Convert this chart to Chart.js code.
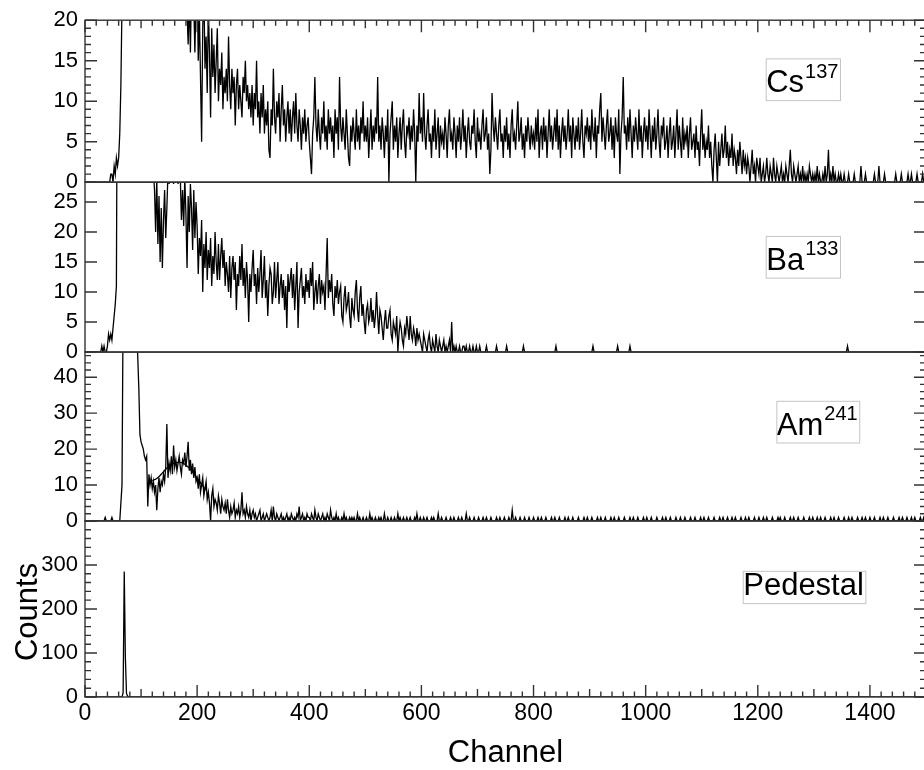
<!DOCTYPE html>
<html>
<head>
<meta charset="utf-8">
<title>Source spectra</title>
<script src="https://cdn.jsdelivr.net/npm/chart.js@4.4.1/dist/chart.umd.min.js"></script>
<style>
  html, body { margin: 0; padding: 0; overflow: hidden; background: #fff; }
  #wrap { position: relative; width: 932px; height: 770px; }
</style>
</head>
<body>
<div id="wrap"><canvas id="spectra" width="932" height="770"></canvas></div>
<script>
// counts per 2-channel bin, first bin at channel 0, one row per 100 channels
const BIN = 2;

const csCounts = [
  0,0,0,0,0,0,0,0,0,0, 0,0,0,0,0,0,0,0,0,0, 0,0,0,1,1,0,2,1,3,2, 3,6,12,22,60,400,350,180,120,90, 70,60,52,46,42,40,38,36,35,34,
  33,32,32,31,31,30,30,29,29,28, 28,28,27,27,27,26,26,26,25,25, 25,24,24,24,24,23,23,23,23,22, 22,22,22,22,21,22,21,23,21,22, 24,21,17,23,16,25,20,22,16,23,
  26,15,21,13,5,19,24,14,18,11, 22,16,8,19,13,17,11,15,19,10, 14,12,16,9,13,11,14,10,18,12, 9,14,11,13,7,12,14,9,12,10, 8,13,11,15,10,12,9,11,8,12,
  7,11,9,15,8,10,6,11,8,12, 6,9,7,10,4,3,9,7,14,8, 6,10,8,11,5,9,12,7,9,5, 8,10,6,9,5,8,10,6,11,7, 5,9,7,4,8,6,9,5,7,8,
  5,3,1,6,8,13,7,5,9,6, 4,8,6,10,5,7,4,9,6,8, 5,7,3,9,6,8,4,13,7,5, 8,6,4,9,6,3,2,7,5,8, 6,4,9,5,7,4,8,6,10,5,
  7,5,8,3,6,9,4,7,5,8, 6,13,5,7,4,8,6,3,7,5, 9,0,6,8,10,4,7,5,8,3, 6,8,4,7,9,5,3,7,6,8, 4,7,5,9,6,0,7,5,11,6,
  8,5,11,6,4,7,9,5,6,3, 7,5,9,4,6,8,3,7,5,6, 4,8,6,3,7,9,5,6,4,8, 6,3,7,5,8,4,6,9,5,7, 3,6,8,5,4,7,6,9,5,3,
  8,5,6,4,7,9,5,6,8,4, 6,1,4,11,7,5,8,6,4,7, 9,5,6,3,7,5,8,4,6,3, 7,9,5,6,4,7,10,5,6,8, 4,6,3,7,5,8,6,4,7,5,
  6,4,8,5,9,3,6,7,4,8, 5,7,3,6,9,5,7,4,6,8, 5,9,4,7,3,6,8,5,7,4, 6,9,5,7,3,8,6,4,7,5, 8,4,6,9,5,3,7,6,8,5,
  7,4,9,6,5,8,3,7,6,9, 11,5,8,6,4,7,9,5,6,8, 4,7,3,8,6,5,9,1,6,8, 13,6,7,4,8,5,9,6,3,7, 5,8,6,4,9,5,7,3,6,8,
  5,7,4,9,6,3,7,5,8,4, 6,9,5,3,7,6,8,4,5,7, 3,6,8,4,5,7,3,6,9,4, 7,5,3,8,4,6,5,7,3,6, 8,4,5,6,3,7,4,5,2,6,
  9,4,6,3,5,4,7,3,5,2, 0,4,6,3,0,5,2,4,6,3, 4,7,3,5,2,4,3,6,2,4, 3,1,4,2,5,3,1,4,2,3, 1,3,2,0,2,4,1,2,0,3,
  2,1,3,0,1,2,0,1,3,1, 0,2,1,0,3,1,0,2,1,0, 1,2,0,1,0,2,1,0,2,4, 1,0,2,1,0,1,2,0,1,0, 2,0,1,0,1,0,2,1,0,1,
  0,1,0,2,0,1,0,0,1,0, 2,0,1,4,0,1,0,2,0,1, 0,0,1,0,1,0,0,1,0,0, 0,1,0,0,0,0,1,0,0,0, 0,0,2,0,0,0,1,0,0,0,
  0,0,0,0,1,0,0,0,2,0, 0,0,0,1,0,0,0,0,0,0, 0,0,0,1,0,0,0,0,1,0, 0,0,0,0,1,0,0,1,0,0, 0,0,1,0,0,0,0,1,0,0
];

const baCounts = [
  0,0,0,0,0,0,0,0,0,0, 0,0,0,0,0,1,0,1,0,0, 1,3,2,3,2,4,6,8,11,60, 400,300,200,150,120,100,90,80,74,70, 65,62,58,55,52,50,48,46,44,42,
  41,40,38,37,36,35,34,33,32,31, 30,30,27,20,29,18,26,15,24,14, 22,27,19,24,30,28,31,29,30,28, 32,29,30,28,31,29,22,27,21,29, 23,14,26,20,28,24,17,27,19,25,
  21,13,19,16,22,10,18,14,20,12, 17,14,19,11,16,13,20,15,12,18, 12,16,19,14,17,11,15,13,10,16, 9,14,16,12,15,7,13,11,16,12, 18,11,14,9,15,12,5,13,10,14,
  17,11,13,8,14,10,13,17,9,12, 16,9,12,6,11,14,13,8,10,15, 9,12,15,8,11,13,9,12,7,11, 4,13,10,12,14,9,13,7,11,15, 4,10,12,14,9,11,8,13,10,12,
  9,14,11,15,7,10,12,8,11,13, 8,12,10,11,7,13,19,9,12,10, 13,8,6,11,9,12,8,10,11,6, 5,9,11,7,8,10,6,4,9,7, 6,10,12,7,5,9,11,6,8,5,
  3,7,8,5,6,9,5,7,4,6, 10,6,3,7,6,4,2,5,7,4, 4,6,7,3,2,5,4,3,6,0, 3,5,4,2,1,4,3,6,4,2, 6,3,2,4,3,1,4,2,3,2,
  1,0,3,2,1,0,2,3,1,0, 2,1,0,3,1,0,2,1,0,1, 2,0,1,0,1,2,0,5,0,1, 0,1,0,0,1,0,0,1,1,0, 1,0,0,1,0,0,1,0,0,1,
  0,0,1,0,0,0,0,0,1,0, 0,0,0,0,0,0,0,1,0,0, 0,0,0,0,0,0,1,0,0,0, 0,0,0,0,0,0,0,0,0,0, 0,1,0,0,0,0,0,0,0,0,
  0,0,0,0,0,0,0,0,0,0, 0,0,0,0,0,0,0,0,0,0, 1,0,0,0,0,0,0,0,0,0, 0,0,0,0,0,0,0,0,0,0, 0,0,0,0,0,0,0,0,0,0,
  0,0,0,1,0,0,0,0,0,0, 0,0,0,0,0,0,0,0,0,0, 0,0,0,0,0,1,0,0,0,0, 0,0,0,0,0,0,1,0,0,0, 0,0,0,0,0,0,0,0,0,0,
  0,0,0,0,0,0,0,0,0,0, 0,0,0,0,0,0,0,0,0,0, 0,0,0,0,0,0,0,0,0,0, 0,0,0,0,0,0,0,0,0,0, 0,0,0,0,0,0,0,0,0,0,
  0,0,0,0,0,0,0,0,0,0, 0,0,0,0,0,0,0,0,0,0, 0,0,0,0,0,0,0,0,0,0, 0,0,0,0,0,0,0,0,0,0, 0,0,0,0,0,0,0,0,0,0,
  0,0,0,0,0,0,0,0,0,0, 0,0,0,0,0,0,0,0,0,0, 0,0,0,0,0,0,0,0,0,0, 0,0,0,0,0,0,0,0,0,0, 0,0,0,0,0,0,0,0,0,0,
  0,0,0,0,0,0,0,0,0,0, 0,0,0,0,0,0,0,0,0,0, 0,0,0,0,0,0,0,0,0,0, 1,0,0,0,0,0,0,0,0,0, 0,0,0,0,0,0,0,0,0,0,
  0,0,0,0,0,0,0,0,0,0, 0,0,0,0,0,0,0,0,0,0, 0,0,0,0,0,0,0,0,0,0, 0,0,0,0,0,0,0,0,0,0, 0,0,0,0,0,0,0,0,0,0
];

const amCounts = [
  0,0,0,0,0,0,0,0,0,0, 0,0,0,0,0,0,0,0,1,0, 0,0,0,0,1,0,0,0,0,0, 0,0,5,10,60,400,500,300,200,150, 120,100,90,80,72,64,55,46,37,24,
  22,21,20,18,17,18,4,13,10,12, 9,11,8,10,3,9,12,8,11,10, 13,11,15,27,12,16,14,18,13,21, 15,17,14,16,18,15,13,17,16,19, 15,18,22,14,17,13,16,12,15,11,
  12,9,13,8,10,12,7,9,11,6, 8,5,0,7,9,4,6,5,3,7, 5,2,6,4,3,5,2,6,3,1, 4,2,3,5,1,3,2,4,1,3, 8,2,3,1,4,2,1,3,0,2,
  3,1,2,0,1,2,3,0,1,2, 0,1,2,1,0,1,3,0,4,1, 0,2,1,0,1,2,0,1,0,1, 2,0,1,0,2,1,0,1,0,2, 1,4,0,1,2,0,1,0,2,1,
  1,0,2,1,0,3,1,0,2,1, 0,1,2,0,1,0,2,1,0,3, 1,0,1,0,2,0,1,0,0,1, 0,2,0,1,0,0,1,0,1,0, 1,0,0,2,0,1,0,0,1,0,
  0,1,0,0,2,0,1,0,0,1, 0,0,1,0,1,0,0,2,0,0, 1,0,0,1,0,0,1,0,0,2, 0,1,0,0,1,0,0,1,0,0, 1,0,0,0,1,0,2,0,0,1,
  0,0,1,0,0,1,0,0,0,1, 0,1,0,0,0,2,0,0,1,0, 0,0,1,0,0,0,1,0,0,1, 0,0,0,1,0,0,1,0,0,0, 2,0,0,1,0,0,0,1,0,0,
  0,1,0,0,0,1,0,0,1,0, 0,0,1,0,0,0,0,1,0,0, 1,0,0,0,1,0,0,0,1,0, 0,3,0,0,1,0,0,0,1,0, 0,0,1,0,0,0,1,0,0,0,
  1,0,0,0,1,0,0,1,0,0, 0,1,0,0,0,0,1,0,0,1, 0,0,0,1,0,0,0,0,1,0, 0,1,0,0,0,1,0,0,0,0, 1,0,0,0,0,1,0,0,1,0,
  0,0,1,0,0,0,0,1,0,0, 1,0,0,0,1,0,0,0,0,1, 0,0,1,0,0,0,1,0,0,0, 0,1,0,0,0,0,1,0,0,1, 0,0,0,1,0,0,0,0,1,0,
  0,1,0,0,0,1,0,0,0,0, 1,0,0,0,0,1,0,0,1,0, 0,0,1,0,0,0,0,1,0,0, 0,1,0,0,0,1,0,0,0,0, 1,0,0,0,1,0,0,0,0,1,
  0,0,1,0,0,0,1,0,0,0, 0,1,0,0,0,0,1,0,0,1, 0,0,0,1,0,0,0,1,0,0, 1,0,0,0,0,1,0,0,0,1, 0,0,1,0,0,0,0,1,0,0,
  0,1,0,0,0,1,0,0,1,0, 0,0,0,1,0,0,0,0,1,0, 1,0,0,0,1,0,0,0,0,1, 0,0,1,0,0,0,1,0,0,0, 0,1,0,0,0,0,1,0,0,1,
  0,0,0,1,0,0,1,0,0,0, 1,0,0,0,0,1,0,0,1,0, 0,0,1,0,0,0,0,1,0,0, 0,1,0,0,1,0,0,0,0,1, 0,0,0,1,0,0,1,0,0,0,
  1,0,0,0,1,0,0,0,0,1, 0,0,1,0,0,0,1,0,0,0, 0,1,0,0,0,0,1,0,0,1, 0,0,0,1,0,0,0,1,0,0, 1,0,0,0,0,1,0,0,1,0
];

// gaussian fit over the 59.5 keV bump
const amFitChannels = [120, 128, 136, 144, 152, 160, 168, 176, 184, 192, 200, 208, 216];
const amFitCounts   = [11.2, 11.8, 13, 14.4, 15.5, 16.1, 16.3, 16, 15, 13.6, 12, 10.2, 8.6];

// pedestal run: one narrow spike, empty elsewhere
const pedestalChannels = [0, 66, 68, 70, 72, 74, 76, 78, 1500];
const pedestalCounts   = [0, 0, 10, 285, 90, 8, 2, 0, 0];

const FONT = '"Liberation Sans", Arial, Helvetica, sans-serif';

// one stacked y axis per source, top to bottom
const panels = [
  { id: 'yCs',  max: 20,   major: 5,   minor: 1,  weight: 162.4, name: 'Cs',       mass: '137', at: [1215, 11.1] },
  { id: 'yBa',  max: 28.3, major: 5,   minor: 5,  weight: 170.3, name: 'Ba',       mass: '133', at: [1215, 13.7] },
  { id: 'yAm',  max: 47,   major: 10,  minor: 2,  weight: 169.3, name: 'Am',       mass: '241', at: [1234, 24] },
  { id: 'yPed', max: 400,  major: 100, minor: 20, weight: 176.5, name: 'Pedestal', mass: '',    at: [1174, 231], hideTop: true }
];

const binned = counts => counts.map((c, i) => ({ x: i * BIN, y: c }));
const paired = (xs, ys) => xs.map((x, i) => ({ x, y: ys[i] }));

const line = (data, yAxisID, extra) => Object.assign({
  data, yAxisID,
  borderColor: '#000',
  borderWidth: 1.3,
  pointRadius: 0,
  tension: 0,
  fill: false
}, extra);

const yAxis = (p, i) => ({
  type: 'linear',
  position: 'left',
  stack: 'panels',
  stackWeight: p.weight,
  weight: panels.length - i,
  min: 0,
  max: p.max,
  grid: { display: false, drawTicks: false },
  border: { display: false },
  ticks: {
    stepSize: p.major,
    includeBounds: false,
    autoSkip: false,
    padding: 7,
    color: '#000',
    font: { family: FONT, size: 22 },
    callback: v => (p.hideTop && v >= p.max) ? '' : String(v)
  },
  afterFit: s => { s.width = 85; }
});

// frames, inward ticks on all sides, source labels and axis titles
const frames = {
  id: 'frames',
  afterDraw(chart) {
    const { ctx, scales } = chart;
    const xs = scales.x;
    const left = xs.left, right = xs.right;
    ctx.save();
    ctx.strokeStyle = '#333';
    ctx.lineWidth = 1.4;

    panels.forEach(p => {
      const ys = scales[p.id];
      ctx.strokeRect(left, ys.top, right - left, ys.bottom - ys.top);
      const per = Math.round(p.major / p.minor);
      ctx.beginPath();
      for (let k = 0; k * p.minor <= p.max + 1e-6; k++) {
        const py = ys.getPixelForValue(k * p.minor);
        const len = k % per === 0 ? 12 : 6;
        ctx.moveTo(left, py); ctx.lineTo(left + len, py);
        ctx.moveTo(right, py); ctx.lineTo(right - len, py);
      }
      ctx.stroke();
    });

    const top = scales[panels[0].id].top;
    const bottom = scales[panels[panels.length - 1].id].bottom;
    ctx.beginPath();
    for (let c = 0; c <= xs.max; c += 20) {
      const px = xs.getPixelForValue(c);
      const len = c % 200 === 0 ? 12 : (c % 100 === 0 ? 8 : 5.5);
      ctx.moveTo(px, bottom); ctx.lineTo(px, bottom - len);
      ctx.moveTo(px, top); ctx.lineTo(px, top + len);
    }
    ctx.stroke();

    ctx.fillStyle = '#000';
    ctx.textBaseline = 'alphabetic';
    ctx.textAlign = 'left';
    panels.forEach(p => {
      const ys = scales[p.id];
      const x0 = xs.getPixelForValue(p.at[0]);
      const base = ys.getPixelForValue(p.at[1]);
      ctx.font = '31px ' + FONT;
      const w = ctx.measureText(p.name).width;
      ctx.fillText(p.name, x0, base);
      let w2 = 0;
      if (p.mass) {
        ctx.font = '20px ' + FONT;
        w2 = ctx.measureText(p.mass).width + 1;
        ctx.fillText(p.mass, x0 + w + 1, base - 14.5);
      }
      const up = p.mass ? 33.4 : 24;
      ctx.strokeStyle = '#c4c4c4';
      ctx.lineWidth = 1;
      ctx.strokeRect(x0, base - up, w + w2 + 2, up + 8.3);
    });

    ctx.font = '31px ' + FONT;
    ctx.textAlign = 'center';
    ctx.fillText('Channel', (left + right) / 2, xs.top + 64.5);

    const ped = scales[panels[panels.length - 1].id];
    ctx.translate(37.3, (ped.top + ped.bottom) / 2 + 3);
    ctx.rotate(-Math.PI / 2);
    ctx.fillText('Counts', 0, 0);
    ctx.restore();
  }
};

const scales = {
  x: {
    type: 'linear',
    position: 'bottom',
    min: 0,
    max: 1500,
    grid: { display: false, drawTicks: false },
    border: { display: false },
    ticks: {
      stepSize: 200,
      includeBounds: false,
      padding: 3,
      maxRotation: 0,
      autoSkip: false,
      color: '#000',
      font: { family: FONT, size: 23 },
      callback: v => String(v)
    },
    afterFit: s => { s.height = 73; }
  }
};
panels.forEach((p, i) => { scales[p.id] = yAxis(p, i); });

new Chart(document.getElementById('spectra'), {
  type: 'line',
  data: {
    datasets: [
      line(binned(csCounts), 'yCs'),
      line(binned(baCounts), 'yBa'),
      line(binned(amCounts), 'yAm'),
      line(paired(amFitChannels, amFitCounts), 'yAm', { tension: 0.4 }),
      line(paired(pedestalChannels, pedestalCounts), 'yPed')
    ]
  },
  options: {
    responsive: false,
    animation: false,
    events: [],
    layout: { padding: { top: 18, right: 6, left: 0, bottom: 0 } },
    plugins: { legend: { display: false }, tooltip: { enabled: false } },
    scales
  },
  plugins: [frames]
});
</script>
</body>
</html>
